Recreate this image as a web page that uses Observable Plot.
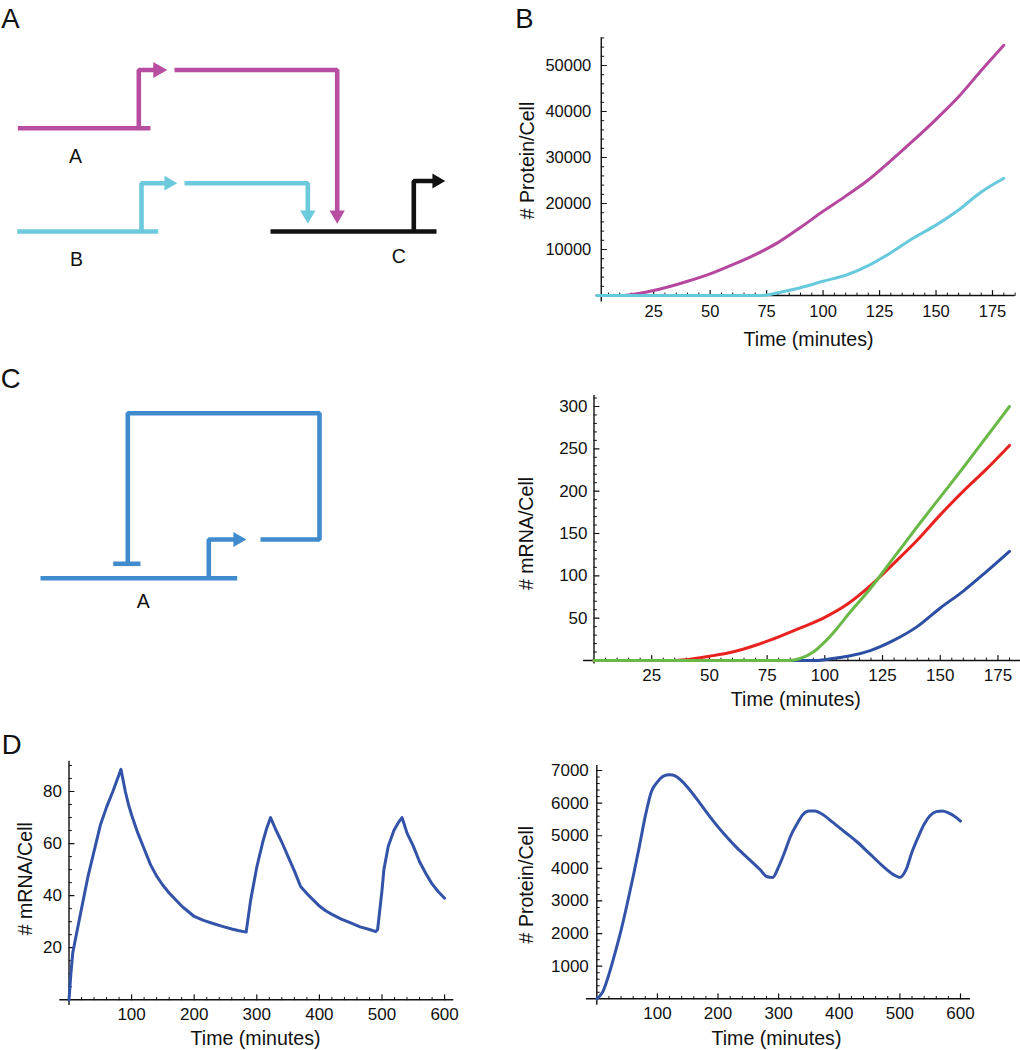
<!DOCTYPE html>
<html><head><meta charset="utf-8">
<script src="https://cdn.jsdelivr.net/npm/d3@7"></script>
<script src="https://cdn.jsdelivr.net/npm/@observablehq/plot@0.6"></script>
<style>
body{margin:0;background:#fff;}
#page{position:relative;width:1020px;height:1050px;overflow:hidden;background:#fff;}
</style></head><body><div id="page"></div>
<script>
// ---------- Panel B : protein per cell ----------
const timeB_A = [0,10,20,30,40,50,60,70,80,90,100,110,120,130,140,150,160,170,180];
const proteinB_A = [0,0,600,1700,3100,4700,6700,8900,11500,14800,18300,21600,25100,29300,33700,38300,43200,48900,54400];
const timeB_B = [0,10,20,30,40,50,60,70,75,80,90,100,110,120,130,140,150,160,170,180];
const proteinB_B = [0,0,0,0,0,0,0,0,100,600,1700,3100,4400,6500,9300,12500,15300,18600,22500,25500];
const xTicksB = [25,50,75,100,125,150,175];
const yTicksB = [10000,20000,30000,40000,50000];

// ---------- Panel C : mRNA per cell ----------
const timeC_blue = [0,95,100,105,110,120,130,140,150,160,170,180];
const mrnaC_blue = [0,0,1,3,5,12,24,40,62,82,105,129];
const timeC_red = [0,35,40,50,60,70,80,90,100,110,120,130,140,150,160,170,180];
const mrnaC_red = [0,0,1,5,10,18,28,39,51,67,89,115,142,172,200,226,254];
const timeC_green = [0,85,90,95,100,105,110,120,130,140,150,160,170,180];
const mrnaC_green = [0,0,3,10,22,37,54,86,122,158,193,228,264,300];
const xTicksC = [25,50,75,100,125,150,175];
const yTicksC = [50,100,150,200,250,300];

// ---------- Panel D : oscillations ----------
const timeD_mrna = [0,3,6,10,20,30,40,50,60,70,80,83,90,95,100,110,120,130,140,150,160,170,180,190,200,215,230,245,260,270,283,290,300,310,316,322,330,340,350,360,370,380,390,400,410,420,435,450,465,480,490,493,500,503,510,519,526,532,540,550,560,570,580,590,600];
const mrnaD = [0,10,18,23,35,47,57,67,74,80,86.5,88.5,80,75,71,64,58,52,47.5,44,41,38.5,36,34,32,30.5,29.3,28.2,27.2,26.6,26,38,51,61,66,70,65.5,60.5,55,49.5,43.5,40.8,38.4,36,34.2,32.8,31,29.5,28,27,26.2,27,42,50,59,65,68,70,64,59,53,48.5,44.5,41.5,39];
const timeD_prot = [0,10,20,30,40,50,60,70,80,90,100,110,120,130,140,150,170,190,210,230,250,270,280,290,300,310,320,330,340,350,360,370,390,410,430,450,470,490,500,510,520,530,540,550,560,570,580,590,600];
const proteinD = [0,220,750,1400,2100,2900,3750,4650,5600,6350,6650,6830,6870,6830,6680,6480,6000,5500,5050,4650,4300,3950,3750,3720,4050,4500,5000,5350,5650,5760,5760,5680,5400,5100,4800,4450,4100,3800,3720,3950,4500,4950,5350,5620,5740,5760,5700,5600,5450];
const xTicksD = [100,200,300,400,500,600];
const yTicksD_mrna = [20,40,60,80];
const yTicksD_prot = [1000,2000,3000,4000,5000,6000,7000];

// ---------- Diagrams ----------
const diagramSegments = [
  // panel A
  {id:"a1", c:"#b84ea1", pts:[[17.3,127.7],[150,127.7]]},
  {id:"a2", c:"#b84ea1", pts:[[138.3,127.7],[138.3,69.5],[154,69.5]]},
  {id:"a3", c:"#b84ea1", pts:[[174,69.5],[336.7,69.5],[336.7,211]]},
  {id:"b1", c:"#6ccadc", pts:[[16.7,231],[157.7,231]]},
  {id:"b2", c:"#6ccadc", pts:[[141,231],[141,182.7],[165,182.7]]},
  {id:"b3", c:"#6ccadc", pts:[[184,182.7],[307.3,182.7],[307.3,211]]},
  {id:"c1", c:"#111111", pts:[[270,231],[436,231]]},
  {id:"c2", c:"#111111", pts:[[413.3,231],[413.3,180.5],[433,180.5]]},
  // panel C
  {id:"d1", c:"#3f8bcd", pts:[[40,577.7],[236.7,577.7]]},
  {id:"d2", c:"#3f8bcd", pts:[[112.7,563.3],[140,563.3]]},
  {id:"d3", c:"#3f8bcd", pts:[[260,539],[319,539],[319,412.7],[127.3,412.7],[127.3,563.3]]},
  {id:"d4", c:"#3f8bcd", pts:[[208.3,577.7],[208.3,539],[234,539]]}
];
const arrowHeads = [
  {x:157.4, y:69.5, rot:90, r:6.0, c:"#b84ea1"},
  {x:168.2, y:182.7, rot:90, r:5.5, c:"#6ccadc"},
  {x:436.2, y:180.5, rot:90, r:5.5, c:"#111111"},
  {x:336.7, y:214.5, rot:180, r:5.7, c:"#b84ea1"},
  {x:307.3, y:214.5, rot:180, r:5.7, c:"#6ccadc"},
  {x:237.2, y:539, rot:90, r:5.6, c:"#3f8bcd"}
];
const diagramLabels = [
  {x:75, y:156.7, t:"A"}, {x:76, y:259.3, t:"B"}, {x:398.3, y:256, t:"C"}, {x:142.7, y:601.7, t:"A"}
];
const panelLetters = [
  {x:10, y:18.3, t:"A"}, {x:523.8, y:18.3, t:"B"}, {x:10.3, y:379, t:"C"}, {x:11.2, y:745, t:"D"}
];

const FONT = "'Liberation Sans', Arial, Helvetica, sans-serif";
const page = document.getElementById("page");
const tickShape = {draw(context, l) { context.moveTo(0, 0); context.lineTo(0, -l); }};

function place(node, left, top) {
  node.style.position = "absolute";
  node.style.left = left + "px";
  node.style.top = top + "px";
  node.style.margin = "0";
  page.appendChild(node);
}

// background diagram layer
{
  const rows = diagramSegments.flatMap(s => s.pts.map(p => ({id:s.id, c:s.c, x:p[0], y:p[1]})));
  const svg = Plot.plot({
    width: 1020, height: 1050, margin: 0,
    x: {domain:[0,1020], range:[0,1020], axis:null},
    y: {domain:[0,1050], range:[0,1050], axis:null},
    r: {type:"identity"},
    style: {background:"transparent", fontFamily: FONT, overflow:"visible"},
    marks: [
      Plot.line(rows, {x:"x", y:"y", z:"id", stroke:d=>d.c, strokeWidth:4.6, strokeLinejoin:"miter", strokeLinecap:"butt", curve:"linear"}),
      Plot.dot(arrowHeads, {x:"x", y:"y", r:"r", rotate:"rot", symbol:"triangle", fill:d=>d.c, stroke:null}),
      Plot.text(diagramLabels, {x:"x", y:"y", text:"t", fontSize:19.5, lineAnchor:"middle", textAnchor:"middle", fill:"#111"}),
      Plot.text(panelLetters, {x:"x", y:"y", text:"t", fontSize:27.5, lineAnchor:"middle", textAnchor:"middle", fill:"#111"})
    ]
  });
  place(svg, 0, 0);
}

function chart(cfg) {
  const rows = cfg.series.flatMap((s, k) => s.t.map((t, i) => ({k, t, v: s.v[i], c: s.color})));
  const ax = cfg.yAxisAt;
  const fs = cfg.tickFont;
  const marks = [
    Plot.ruleX([ax], {y1: cfg.yExtent[0], y2: cfg.yExtent[1], stroke:"#111", strokeWidth:1.4}),
    Plot.ruleY([0], {x1: cfg.xExtent[0], x2: cfg.xExtent[1], stroke:"#111", strokeWidth:1.4}),
    Plot.vector(cfg.yMajor, {x: ax, y: d=>d, length: 5, rotate: 90, anchor:"start", shape: tickShape, stroke:"#111", strokeWidth:1.2}),
    Plot.vector(cfg.yMinor, {x: ax, y: d=>d, length: 2.5, rotate: 90, anchor:"start", shape: tickShape, stroke:"#111", strokeWidth:1}),
    Plot.vector(cfg.xMajor, {x: d=>d, y: 0, length: 5, rotate: 0, anchor:"start", shape: tickShape, stroke:"#111", strokeWidth:1.2}),
    Plot.vector(cfg.xMinor, {x: d=>d, y: 0, length: 2.5, rotate: 0, anchor:"start", shape: tickShape, stroke:"#111", strokeWidth:1}),
    Plot.text(cfg.yMajor, {x: ax, y: d=>d, text: d=>String(d), textAnchor:"end", lineAnchor:"middle", dx: cfg.yLabelDx, fontSize:fs, fill:"#111"}),
    Plot.text(cfg.xMajor, {x: d=>d, y: 0, text: d=>String(d), textAnchor:"middle", lineAnchor:"middle", dy: cfg.xLabelDy, fontSize:fs, fill:"#111"}),
    Plot.text([cfg.xTitle], {frameAnchor:"bottom", text: d=>d, textAnchor:"middle", lineAnchor:"middle", dx: cfg.xTitleDx, dy: cfg.xTitleDy, fontSize:19.6, fill:"#111"}),
    Plot.text([cfg.yTitle], {frameAnchor:"left", text: d=>d, rotate:-90, textAnchor:"middle", lineAnchor:"middle", dx: cfg.yTitleDx, dy: cfg.yTitleDy, fontSize:19.6, fill:"#111"}),
    Plot.line(rows, {x:"t", y:"v", z:"k", stroke: d=>d.c, strokeWidth:3, curve: cfg.curve})
  ];
  const svg = Plot.plot({
    width: cfg.width, height: cfg.height,
    marginLeft: cfg.m[0], marginRight: cfg.m[1], marginTop: cfg.m[2], marginBottom: cfg.m[3],
    x: {domain: cfg.xDomain, axis: null},
    y: {domain: cfg.yDomain, axis: null},
    style: {background:"transparent", fontFamily: FONT, overflow:"visible"},
    marks
  });
  place(svg, cfg.left, cfg.top);
}

const minor = (lo, hi, step, majors) => d3.range(lo, hi + 1e-9, step).filter(v => !majors.includes(v) && v !== 0);

// Panel B
chart({
  left:500, top:0, width:520, height:360, m:[96.7,16.7,65,65],
  xDomain:[0,180], yDomain:[0,50000], yAxisAt:1.8,
  yExtent:[-1400,56000], xExtent:[-0.5,185],
  xMajor:xTicksB, xMinor:minor(5,185,5,xTicksB), yMajor:yTicksB, yMinor:minor(2000,56000,2000,yTicksB),
  yLabelDx:-10, xLabelDy:16.7, tickFont:16.5,
  xTitle:"Time (minutes)", yTitle:"# Protein/Cell", xTitleDx:8, xTitleDy:44, yTitleDx:-69.7, yTitleDy:-20,
  curve:"monotone-x",
  series:[{t:timeB_A, v:proteinB_A, color:"#b5479f"}, {t:timeB_B, v:proteinB_B, color:"#66c9dc"}]
});

// Panel C plot
chart({
  left:500, top:360, width:520, height:370, m:[93.5,11,46,70],
  xDomain:[0,180], yDomain:[0,300], yAxisAt:0,
  yExtent:[-4,313], xExtent:[-4.5,186],
  xMajor:xTicksC, xMinor:minor(5,185,5,xTicksC), yMajor:yTicksC, yMinor:minor(10,310,10,yTicksC),
  yLabelDx:-6.5, xLabelDy:15, tickFont:17,
  xTitle:"Time (minutes)", yTitle:"# mRNA/Cell", xTitleDx:-6, xTitleDy:39.3, yTitleDx:-67.5, yTitleDy:0,
  curve:"monotone-x",
  series:[{t:timeC_blue, v:mrnaC_blue, color:"#2c4ea3"}, {t:timeC_red, v:mrnaC_red, color:"#e8221f"}, {t:timeC_green, v:mrnaC_green, color:"#6ab946"}]
});

// Panel D left
chart({
  left:0, top:730, width:470, height:320, m:[68.5,25.9,61,50.7],
  xDomain:[0,600], yDomain:[0,80], yAxisAt:0,
  yExtent:[-2.2,91.6], xExtent:[-14.7,614.7],
  xMajor:xTicksD, xMinor:minor(20,600,20,xTicksD), yMajor:yTicksD_mrna, yMinor:minor(5,90,5,yTicksD_mrna),
  yLabelDx:-7, xLabelDy:15, tickFont:17,
  xTitle:"Time (minutes)", yTitle:"# mRNA/Cell", xTitleDx:-1.3, xTitleDy:39, yTitleDx:-43.5, yTitleDy:-16.9,
  curve:"linear",
  series:[{t:timeD_mrna, v:mrnaD, color:"#3353a8"}]
});

// Panel D right
chart({
  left:500, top:730, width:520, height:320, m:[96.3,60,40,51.7],
  xDomain:[0,600], yDomain:[0,7000], yAxisAt:0,
  yExtent:[-200,7150], xExtent:[-17,616.6],
  xMajor:xTicksD, xMinor:minor(20,600,20,xTicksD), yMajor:yTicksD_prot, yMinor:minor(200,7000,200,yTicksD_prot),
  yLabelDx:-8, xLabelDy:14.4, tickFont:17,
  xTitle:"Time (minutes)", yTitle:"# Protein/Cell", xTitleDx:-2.2, xTitleDy:40, yTitleDx:-70.3, yTitleDy:0,
  curve:"monotone-x",
  series:[{t:timeD_prot, v:proteinD, color:"#3353a8"}]
});
</script></body></html>
